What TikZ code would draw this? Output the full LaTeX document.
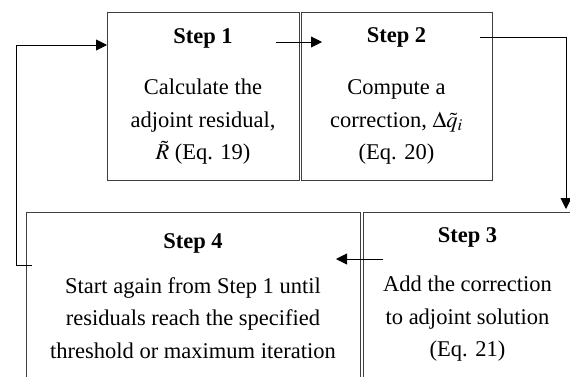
\documentclass[tikz,border=0pt]{standalone}
\usepackage{mathptmx}
\usepackage{fontspec}
\setmainfont{Liberation Serif}
\usetikzlibrary{arrows.meta}

\tikzset{
  stepbox/.style={draw=black!75, line width=1pt, anchor=north west, inner sep=0pt},
  head/.style={font=\fontsize{22.5}{32}\selectfont\bfseries, inner sep=0pt},
  body/.style={font=\fontsize{22.5}{32.5}\selectfont, align=center, inner sep=0pt},
  arr/.style={draw=black, line width=0.9pt, -{Triangle[length=11pt,width=11pt]}}
}

\begin{document}
\begin{tikzpicture}[x=1pt,y=-1pt]
  \clip (0,0) rectangle (570,376);
  \fill[white] (0,0) rectangle (570,376);

  % the four step boxes
  \node[stepbox, minimum width=192pt, minimum height=168pt] (s1) at (107,12) {};
  \node[stepbox, minimum width=191pt, minimum height=168pt] (s2) at (301,12) {};
  \node[stepbox, minimum width=209pt, minimum height=180pt] (s3) at (363,212) {};
  \node[stepbox, minimum width=334pt, minimum height=180pt] (s4) at (26,212) {};

  % box contents
  \node[head] (h1) at (203,38) {Step 1};
  \node[body] (t1) at (203,122) {Calculate the\\adjoint residual,\\$\tilde{R}$ (Eq. 19)};

  \node[head] (h2) at (396.5,37) {Step 2};
  \node[body] (t2) at (396.5,122) {Compute a\\correction, $\Delta\tilde{q}_i$\\(Eq. 20)};

  \node[head] (h3) at (467.5,237) {Step 3};
  \node[body] (t3) at (467.5,319) {Add the correction\\to adjoint solution\\(Eq. 21)};

  \node[head] (h4) at (193,243) {Step 4};
  \node[body] (t4) at (193,318) {Start again from Step 1 until\\residuals reach the specified\\threshold or maximum iteration};

  % connector end points
  \coordinate (a1s) at (276,42);
  \coordinate (a1e) at (322,42);
  \coordinate (a2s) at (480,37);
  \coordinate (a2e) at (566,209);
  \coordinate (a3s) at (383,259);
  \coordinate (a3e) at (336,259);
  \coordinate (a4s) at (32,265);
  \coordinate (a4c) at (16,265);
  \coordinate (a4e) at (107,45);

  % flow between the steps
  \draw[arr] (a1s) -- (a1e);
  \draw[arr] (a2s) -| (a2e);
  \draw[arr] (a3s) -- (a3e);
  \draw[arr] (a4s) -- (a4c) |- (a4e);
\end{tikzpicture}
\end{document}
